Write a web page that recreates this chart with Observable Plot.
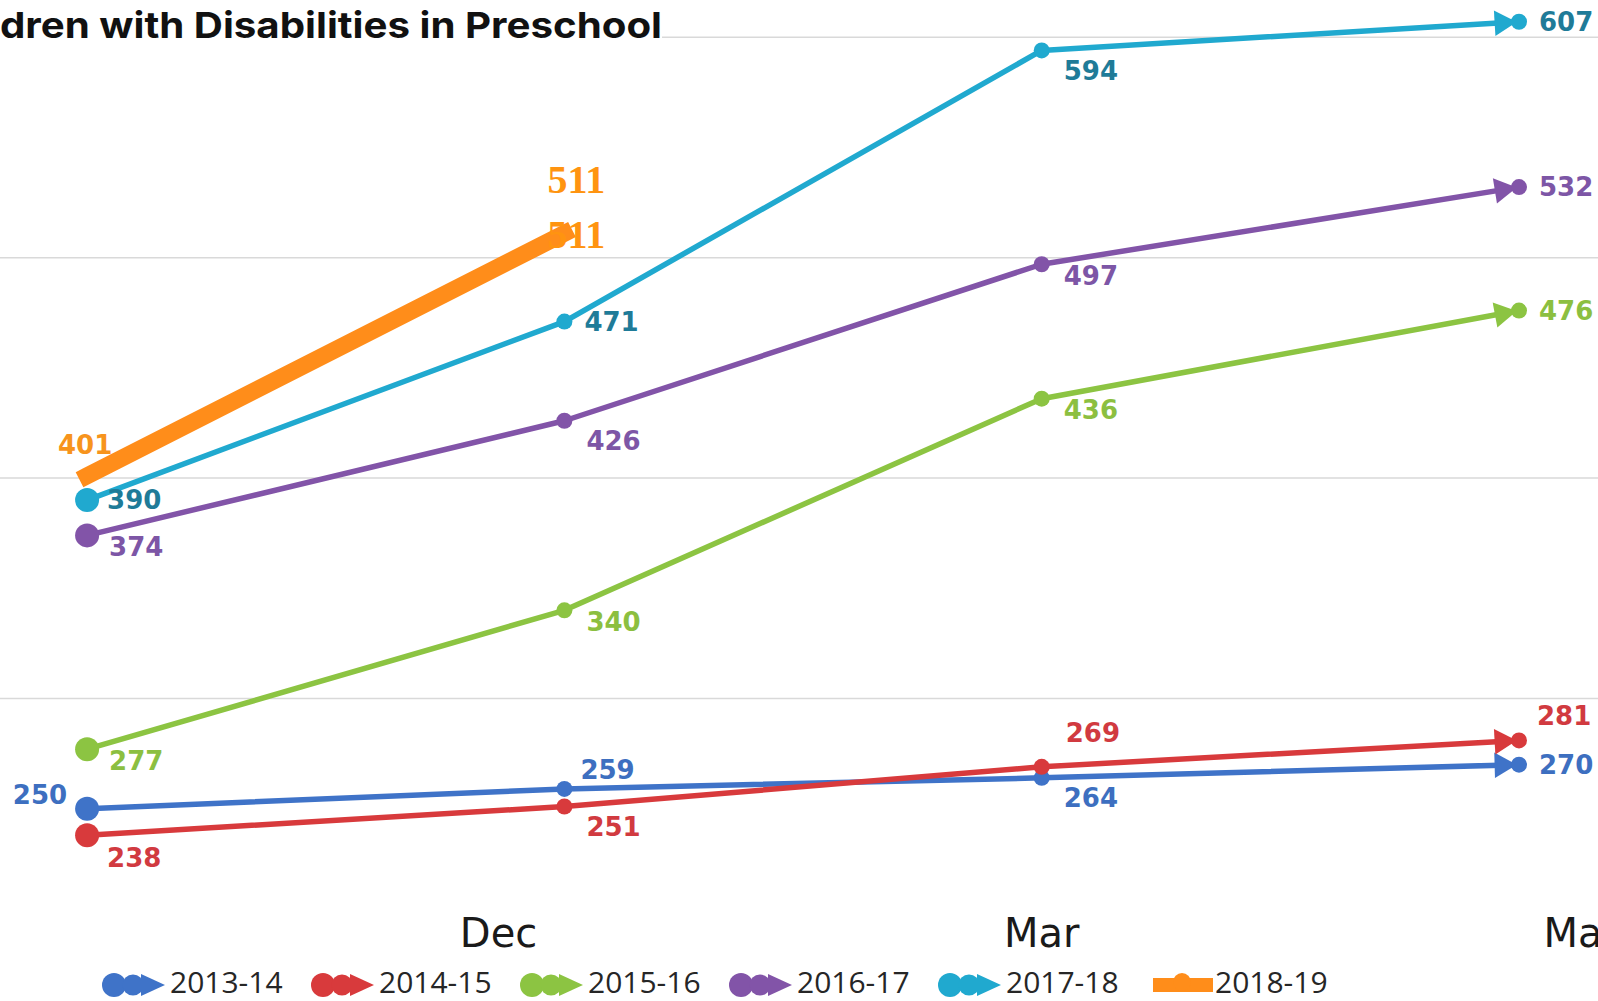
<!DOCTYPE html>
<html><head><meta charset="utf-8">
<script src="https://cdn.jsdelivr.net/npm/d3@7"></script>
<script src="https://cdn.jsdelivr.net/npm/@observablehq/plot@0.6"></script>
<style>
html,body{margin:0;padding:0;background:#fff;overflow:hidden}
#wrap{position:relative;width:1598px;height:1001px;overflow:hidden}
#chart{position:absolute;left:0;top:0}
#title{position:absolute;left:0;top:0}
#legend{position:absolute;left:0;top:950px}
</style></head><body>
<div id="wrap"><div id="chart"></div><svg id="title"></svg><svg id="legend"></svg></div>
<script>
// ---------- data ----------
const titleText = "dren with Disabilities in Preschool";
const seriesNames = ["2013-14", "2014-15", "2015-16", "2016-17", "2017-18", "2018-19"];
const snapshots = [0, 1, 2, 3];            // four collection points per school year
const values2013 = [250, 259, 264, 270];
const values2014 = [238, 251, 269, 281];
const values2015 = [277, 340, 436, 476];
const values2016 = [374, 426, 497, 532];
const values2017 = [390, 471, 594, 607];
const values2018 = [401, 511];
const axisMonths = ["Dec", "Mar", "May"];
const gridValues = [300, 400, 500, 600];

// ---------- styles ----------
const lineColors  = ["#3f73c8", "#d83a3c", "#8cc442", "#8254a8", "#20a9cf", "#ff8d1a"];
const labelColors = ["#3d6fc0", "#d13a40", "#8cbf40", "#7d56a6", "#1f7b98", "#f7941d"];
const placements = {
  "2013-14": ["left", "aboveNear", "below", "right"],
  "2014-15": ["belowFar", "below", "aboveHigh", "above"],
  "2015-16": ["rightLow", "rightLow", "rightLow", "right"],
  "2016-17": ["rightLow", "below", "rightLow", "right"],
  "2017-18": ["right", "right", "below", "right"],
  "2018-19": ["top", null]
};
const placementStyle = {
  right:     {dx: 20, dy: 1,   textAnchor: "start"},
  rightLow:  {dx: 22, dy: 12,  textAnchor: "start"},
  below:     {dx: 22, dy: 21,  textAnchor: "start"},
  belowFar:  {dx: 20, dy: 24,  textAnchor: "start"},
  aboveNear: {dx: 16, dy: -18, textAnchor: "start"},
  above:     {dx: 18, dy: -24, textAnchor: "start"},
  aboveHigh: {dx: 24, dy: -33, textAnchor: "start"},
  left:      {dx: -20, dy: -13, textAnchor: "end"},
  top:       {dx: -2, dy: -30, textAnchor: "middle"}
};
// the month labels of the underlying axis are spaced wider than the snapshots; "Mar" sits on snapshot 2
const LABEL_STEP = 1.138;

const allValues = [values2013, values2014, values2015, values2016, values2017, values2018];
const rows = [];
seriesNames.forEach((s, k) => allValues[k].forEach((v, j) => rows.push({
  series: s, k, i: snapshots[j], v, color: lineColors[k], labelColor: labelColors[k],
  place: placements[s][j], last: j === allValues[k].length - 1
})));

const W = 1598, H = 960;
const xOpts = {domain: [0, 3], range: [86.6, 1518.5]};
const yOpts = {domain: [300, 600], range: [698, 36.7]};
const xs = Plot.scale({x: xOpts}), ys = Plot.scale({y: yOpts});

// arrowheads on the final segment of each full-year series
const arrows = [];
seriesNames.forEach((s, k) => {
  const vals = allValues[k];
  if (vals.length < 4) return;
  const x0 = xs.apply(2), y0 = ys.apply(vals[2]);
  const x1 = xs.apply(3), y1 = ys.apply(vals[3]);
  const a = Math.atan2(y1 - y0, x1 - x0);
  const cx = x1 - 17 * Math.cos(a), cy = y1 - 17 * Math.sin(a);
  arrows.push({x: xs.invert(cx), y: ys.invert(cy), rot: a * 180 / Math.PI + 90, color: lineColors[k]});
});

const regular = rows.filter(d => d.series !== "2018-19");
const current = rows.filter(d => d.series === "2018-19");
const labelFont = "DejaVu Sans, Verdana, sans-serif";

const labelMarks = Object.entries(placementStyle).map(([key, st]) =>
  Plot.text(rows.filter(d => d.place === key), {
    x: "i", y: "v", text: d => String(d.v), fill: "labelColor",
    dx: st.dx, dy: st.dy, textAnchor: st.textAnchor,
    fontFamily: labelFont, fontWeight: "bold", fontSize: 26
  }));

const lastCurrent = current.filter(d => d.last);

const plot = Plot.plot({
  width: W, height: H,
  marginLeft: 0, marginRight: 0, marginTop: 0, marginBottom: 0,
  x: {...xOpts, axis: null},
  y: {...yOpts, axis: null},
  color: {type: "identity"},
  style: {background: "transparent", overflow: "visible"},
  marks: [
    Plot.ruleY(gridValues, {stroke: "#d9d9d9", strokeWidth: 1.5}),
    Plot.line(regular, {x: "i", y: "v", z: "series", stroke: "color", strokeWidth: 5.5, strokeLinejoin: "round", strokeLinecap: "round"}),
    Plot.dot(arrows, {x: "x", y: "y", symbol: "triangle", r: 9.5, rotate: "rot", fill: "color", stroke: "none"}),
    Plot.dot(regular.filter(d => d.i === 0), {x: "i", y: "v", r: 12, fill: "color"}),
    Plot.dot(regular.filter(d => d.i > 0), {x: "i", y: "v", r: 8, fill: "color"}),
    Plot.line(current, {x: "i", y: "v", stroke: "color", strokeWidth: 17, strokeLinecap: "square"}),
    Plot.text(lastCurrent, {x: "i", y: "v", text: d => String(d.v), fill: "#ff9410", dx: 12, dy: -53,
      fontFamily: "Liberation Serif, DejaVu Serif, serif", fontWeight: "bold", fontSize: 40}),
    Plot.text(lastCurrent, {x: "i", y: "v", text: d => String(d.v), fill: "#ff9410", dx: 12, dy: 2,
      fontFamily: "Liberation Serif, DejaVu Serif, serif", fontWeight: "bold", fontSize: 40}),
    ...labelMarks,
    Plot.text(axisMonths, {x: (d, j) => 2 + (j - 1) * LABEL_STEP, frameAnchor: "bottom", lineAnchor: "middle", dy: -26,
      text: d => d, fill: "#1a1a1a", fontFamily: "DejaVu Sans, sans-serif", fontSize: 40})
  ]
});
document.getElementById("chart").appendChild(plot);

// ---------- title ----------
const t = d3.select("#title").attr("width", 700).attr("height", 46);
t.append("rect").attr("width", 662).attr("height", 44).attr("fill", "#fff");
t.append("text").attr("x", 0).attr("y", 38)
  .attr("font-family", "Inter, 'Open Sans', sans-serif").attr("font-weight", 700)
  .attr("font-size", 36).attr("fill", "#111")
  .attr("textLength", 662).attr("lengthAdjust", "spacingAndGlyphs")
  .text(titleText);

// ---------- legend ----------
const lg = d3.select("#legend").attr("width", W).attr("height", 51);
seriesNames.forEach((s, k) => {
  const sx = 102 + k * 209, cy = 35;
  const g = lg.append("g");
  const c = lineColors[k];
  if (k < 5) {
    g.append("line").attr("x1", sx + 11).attr("x2", sx + 48).attr("y1", cy).attr("y2", cy).attr("stroke", c).attr("stroke-width", 6);
    g.append("circle").attr("cx", sx + 12).attr("cy", cy).attr("r", 12).attr("fill", c);
    g.append("circle").attr("cx", sx + 31).attr("cy", cy).attr("r", 10.5).attr("fill", c);
    g.append("path").attr("d", `M${sx + 39},${cy - 11}L${sx + 63},${cy}L${sx + 39},${cy + 11}Z`).attr("fill", c);
  } else {
    g.append("rect").attr("x", sx + 6).attr("y", cy - 7).attr("width", 60).attr("height", 14).attr("fill", c);
    g.append("circle").attr("cx", sx + 35).attr("cy", cy - 3).attr("r", 9).attr("fill", c);
  }
  g.append("text").attr("x", sx + 68).attr("y", cy + 8)
    .attr("font-family", "Open Sans, sans-serif").attr("font-size", 30).attr("fill", "#262626")
    .text(s);
});
</script></body></html>
